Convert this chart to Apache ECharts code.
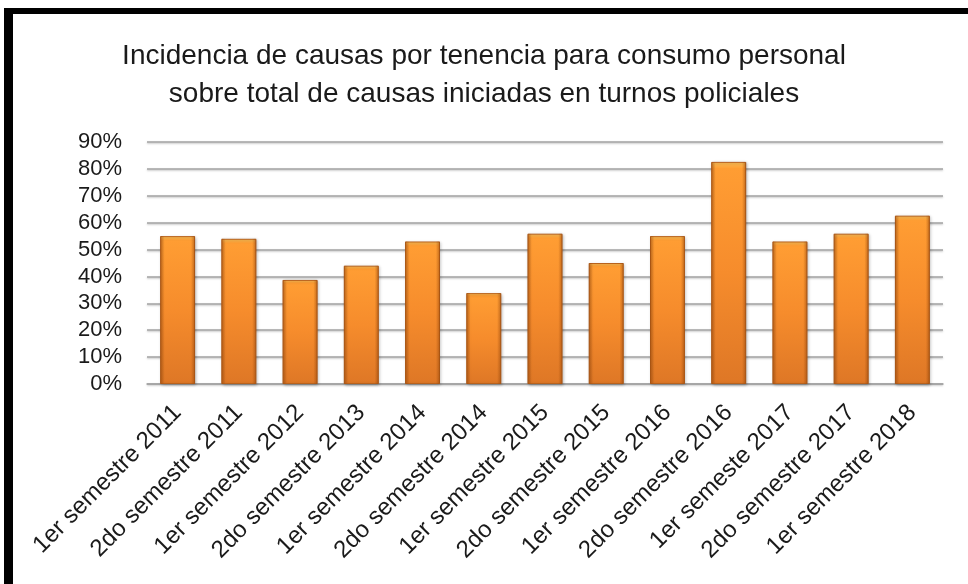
<!DOCTYPE html>
<html>
<head>
<meta charset="utf-8">
<script src="https://cdn.jsdelivr.net/npm/echarts@6/dist/echarts.min.js"></script>
<style>
    html, body { margin: 0; padding: 0; background: #fff; }
    #main { width: 968px; height: 584px; }
</style>
</head>
<body>
<div id="main"></div>
<script>
var titleLines = [
    'Incidencia de causas por tenencia para consumo personal',
    'sobre total de causas iniciadas en turnos policiales'
];
var categories = [
    '1er semestre 2011', '2do semestre 2011', '1er semestre 2012', '2do semestre 2013',
    '1er semestre 2014', '2do semestre 2014', '1er semestre 2015', '2do semestre 2015',
    '1er semestre 2016', '2do semestre 2016', '1er semeste 2017', '2do semestre 2017',
    '1er semestre 2018'
];
// percent values
var values = [55, 54, 38.7, 44, 53, 33.8, 55.9, 45, 55, 82.6, 53, 55.9, 62.6];
var yTicks = { min: 0, max: 90, step: 10 };

var myChart = echarts.init(document.getElementById('main'));

var style = {
    font: '"Liberation Sans", Arial, sans-serif',
    text: '#1a1a1a',
    grid: '#a3a3a3'
};

var option = {
    backgroundColor: '#fff',
    animation: false,
    title: {
        text: titleLines.join('\n'),
        left: 'center',
        top: 32,
        textStyle: {
            fontFamily: style.font,
            fontWeight: 'normal',
            fontSize: 28,
            lineHeight: 38,
            color: style.text
        }
    },
    grid: {
        left: 147,
        right: 25,
        top: 142,
        bottom: 200
    },
    xAxis: {
        type: 'category',
        data: categories,
        axisTick: { show: false },
        axisLine: { lineStyle: { color: style.grid, width: 1.5 } },
        axisLabel: {
            rotate: 45,
            interval: 0,
            margin: 25,
            fontFamily: style.font,
            fontSize: 24,
            color: style.text
        }
    },
    yAxis: {
        type: 'value',
        min: yTicks.min,
        max: yTicks.max,
        interval: yTicks.step,
        axisLine: { show: false },
        axisTick: { show: false },
        splitLine: {
            lineStyle: {
                color: style.grid,
                width: 1.5,
                shadowColor: 'rgba(0,0,0,0.25)',
                shadowBlur: 2,
                shadowOffsetY: 1
            }
        },
        axisLabel: {
            formatter: '{value}%',
            margin: 25,
            fontFamily: style.font,
            fontSize: 22,
            color: style.text
        }
    },
    series: [
        {
            type: 'bar',
            data: values,
            barWidth: '57%',
            itemStyle: {
                color: new echarts.graphic.LinearGradient(0, 0, 0, 1, [
                    { offset: 0, color: '#ffc45a' },
                    { offset: 0.03, color: '#ff9d33' },
                    { offset: 0.5, color: '#f68c2c' },
                    { offset: 1, color: '#de7726' }
                ]),
                borderColor: '#b9621c',
                borderWidth: 1,
                shadowColor: 'rgba(0,0,0,0.25)',
                shadowBlur: 3,
                shadowOffsetX: 1,
                shadowOffsetY: 1
            }
        },
        {
            // darker rim on both sides of each bar
            type: 'bar',
            data: values,
            barWidth: '57%',
            barGap: '-100%',
            silent: true,
            itemStyle: {
                color: new echarts.graphic.LinearGradient(0, 0, 1, 0, [
                    { offset: 0, color: 'rgba(150,70,10,0.55)' },
                    { offset: 0.12, color: 'rgba(150,70,10,0)' },
                    { offset: 0.88, color: 'rgba(150,70,10,0)' },
                    { offset: 1, color: 'rgba(150,70,10,0.55)' }
                ])
            }
        }
    ],
    graphic: [
        // the black frame, cut off on the right and bottom
        { type: 'rect', left: 4, top: 8, shape: { width: 964, height: 6 }, style: { fill: '#000' } },
        { type: 'rect', left: 4, top: 8, shape: { width: 9, height: 576 }, style: { fill: '#000' } }
    ]
};

myChart.setOption(option);
</script>
</body>
</html>
